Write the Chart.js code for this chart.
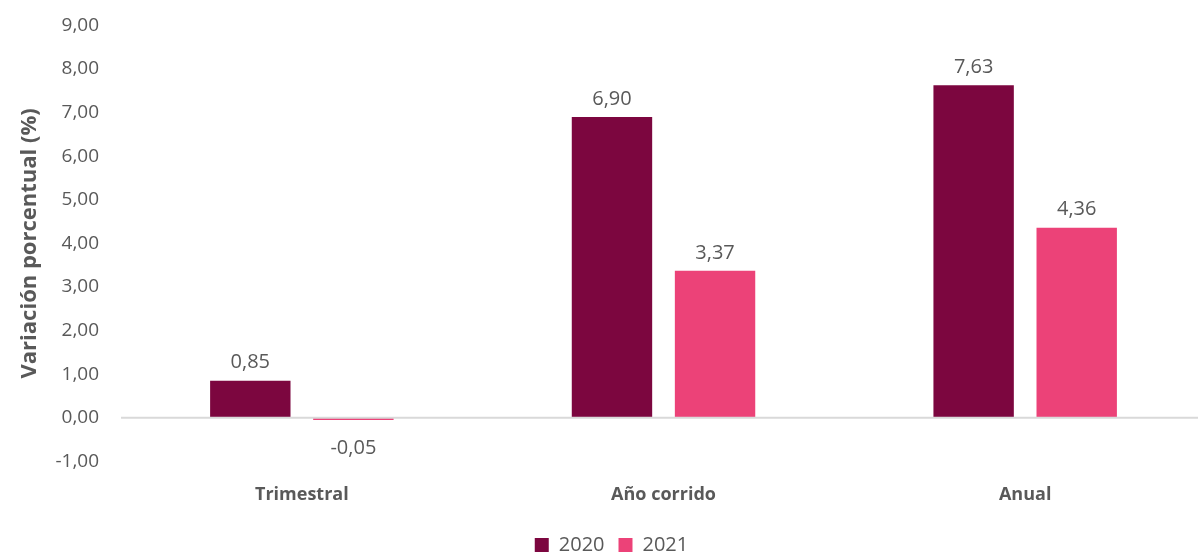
<!DOCTYPE html>
<html lang="es">
<head>
<meta charset="utf-8">
<title>Variación porcentual</title>
<script src="https://cdn.jsdelivr.net/npm/chart.js@4"></script>
<style>
  html, body { margin: 0; padding: 0; background: #fff; overflow: hidden; }
  .chart-box { width: 1206px; height: 557px; }
</style>
</head>
<body>
<div class="chart-box"><canvas id="chart"></canvas></div>
<script>
const categories = ['Trimestral', 'Año corrido', 'Anual'];
const years = ['2020', '2021'];
const values2020 = [0.85, 6.90, 7.63];
const values2021 = [-0.05, 3.37, 4.36];

const textColor = '#595959';
const fontFamily = "'Open Sans', 'Noto Sans', sans-serif";

// coma decimal, como en el original
const fmt = v => v.toFixed(2).replace('.', ',');

// etiquetas de valor encima (o debajo) de cada barra + línea del cero por encima
const valueLabels = {
  id: 'valueLabels',
  afterDatasetsDraw(chart) {
    const ctx = chart.ctx;
    const area = chart.chartArea;
    const y0 = chart.scales.y.getPixelForValue(0);
    ctx.save();
    ctx.strokeStyle = '#d9d9d9';
    ctx.lineWidth = 2;
    ctx.beginPath();
    ctx.moveTo(area.left, y0);
    ctx.lineTo(area.right, y0);
    ctx.stroke();

    ctx.font = '20px ' + fontFamily;
    ctx.fillStyle = textColor;
    ctx.textAlign = 'center';
    ctx.textBaseline = 'middle';
    chart.data.datasets.forEach((ds, i) => {
      chart.getDatasetMeta(i).data.forEach((bar, j) => {
        const v = ds.data[j];
        const y = v >= 0 ? bar.y - 18 : bar.base + 30;
        ctx.fillText(fmt(v), bar.x, y);
      });
    });
    ctx.restore();
  }
};

new Chart(document.getElementById('chart'), {
  type: 'bar',
  data: {
    labels: categories,
    datasets: [
      { label: years[0], data: values2020, backgroundColor: '#7c063f' },
      { label: years[1], data: values2021, backgroundColor: '#ec4278' }
    ]
  },
  options: {
    responsive: true,
    maintainAspectRatio: false,
    animation: false,
    layout: { padding: { top: -13, right: 0, bottom: -8, left: 17 } },
    datasets: {
      bar: { categoryPercentage: 0.57, barPercentage: 0.78 }
    },
    scales: {
      x: {
        grid: { display: false },
        border: { display: false },
        ticks: {
          color: textColor,
          font: { family: fontFamily, size: 18, weight: 'bold' },
          padding: 15
        }
      },
      y: {
        min: -1,
        max: 9,
        border: { display: false },
        grid: { display: false },
        ticks: {
          stepSize: 1,
          color: textColor,
          padding: 14,
          font: { family: fontFamily, size: 19 },
          callback: v => fmt(v)
        },
        title: {
          display: true,
          text: 'Variación porcentual (%)',
          color: textColor,
          font: { family: fontFamily, size: 22, weight: 'bold' },
          padding: { top: 0, bottom: -2 }
        }
      }
    },
    plugins: {
      legend: {
        position: 'bottom',
        labels: {
          color: textColor,
          boxWidth: 14,
          boxHeight: 14,
          padding: 14,
          font: { family: fontFamily, size: 20 }
        }
      },
      tooltip: { enabled: false }
    }
  },
  plugins: [valueLabels]
});
</script>
</body>
</html>
